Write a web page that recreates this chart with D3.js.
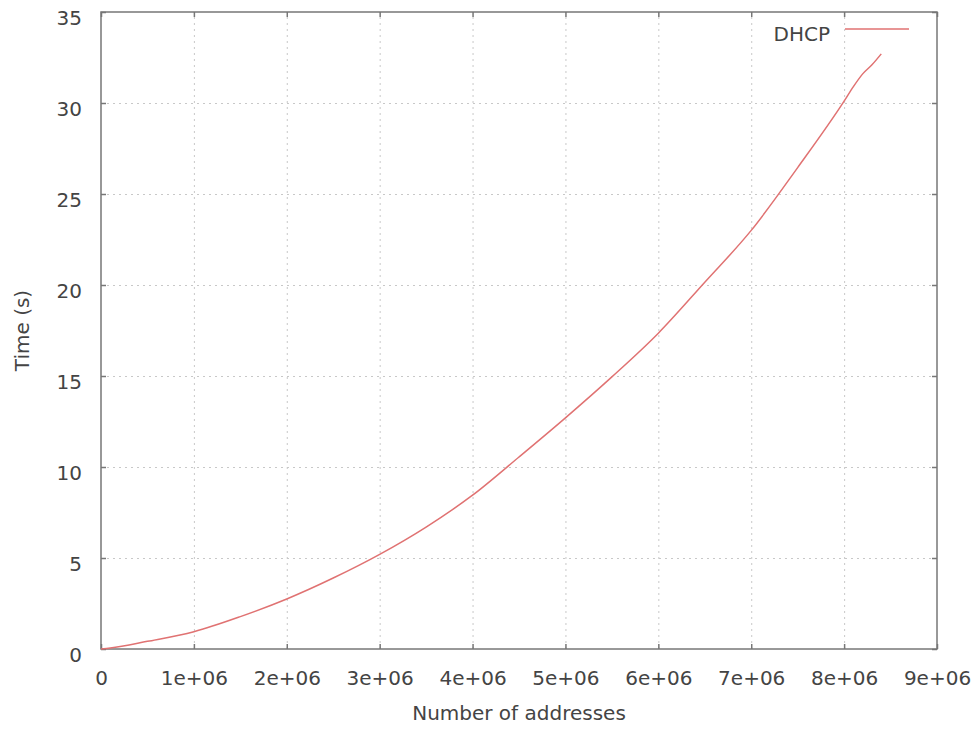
<!DOCTYPE html>
<html lang="en">
<head>
<meta charset="UTF-8">
<title>DHCP - Time vs number of addresses</title>
<script src="https://d3js.org/d3.v7.min.js"></script>
<style>
  body { margin: 0; background: #fff; }
  svg text { font-family: "DejaVu Sans", sans-serif; fill: #444; }
  .grid line { stroke: #c8c8c8; stroke-dasharray: 2,4; }
  .grid path { display: none; }
  .axis path { display: none; }
  .axis line { stroke: #777; stroke-width: 1.5; }
</style>
</head>
<body>
<script>
  // data
  const addresses = [0, 1e5, 5e5, 1e6, 1.5e6, 2e6, 2.5e6, 3e6, 3.5e6, 4e6, 4.5e6, 5e6, 5.5e6,
                     6e6, 6.5e6, 7e6, 7.5e6, 8e6, 8.1e6, 8.2e6, 8.3e6, 8.4e6];
  const seconds = [0, 0.05, 0.42, 0.95, 1.78, 2.75, 3.9, 5.2, 6.7, 8.45, 10.55, 12.7, 14.95,
                   17.35, 20.15, 23.0, 26.45, 30.1, 30.9, 31.6, 32.1, 32.7];
  const xTicks = [0, 1e6, 2e6, 3e6, 4e6, 5e6, 6e6, 7e6, 8e6, 9e6];
  const xTickLabels = ['0', '1e+06', '2e+06', '3e+06', '4e+06', '5e+06', '6e+06', '7e+06', '8e+06', '9e+06'];
  const yTicks = [0, 5, 10, 15, 20, 25, 30, 35];
  const seriesName = 'DHCP';

  const width = 975, height = 729;
  const margin = { top: 12, right: 38, bottom: 80, left: 101 };
  const w = width - margin.left - margin.right;
  const h = height - margin.top - margin.bottom;

  const svg = d3.select('body').append('svg').attr('width', width).attr('height', height);
  const g = svg.append('g').attr('transform', `translate(${margin.left},${margin.top})`);

  const x = d3.scaleLinear().domain([0, 9e6]).range([0, w]);
  const y = d3.scaleLinear().domain([0, 35]).range([h, 0]);

  // grid
  g.append('g').attr('class', 'grid')
    .attr('transform', `translate(0,${h})`)
    .call(d3.axisBottom(x).tickValues(xTicks.slice(1, -1)).tickSize(-h).tickFormat(''));
  g.append('g').attr('class', 'grid')
    .call(d3.axisLeft(y).tickValues(yTicks.slice(1, -1)).tickSize(-w).tickFormat(''));

  // axes with inward ticks
  const xAxis = g.append('g').attr('class', 'axis')
    .attr('transform', `translate(0,${h})`)
    .call(d3.axisBottom(x).tickValues(xTicks).tickSize(-5).tickPadding(22)
      .tickFormat((d, i) => xTickLabels[i]));
  xAxis.selectAll('text').attr('font-size', 20).attr('fill', '#444');

  const yAxis = g.append('g').attr('class', 'axis')
    .call(d3.axisLeft(y).tickValues(yTicks).tickSize(-5).tickPadding(19));
  yAxis.selectAll('text').attr('font-size', 20).attr('fill', '#444').attr('dy', '0.62em');

  g.append('g').attr('class', 'axis')
    .call(d3.axisTop(x).tickValues(xTicks).tickSize(-5).tickFormat(''));
  g.append('g').attr('class', 'axis')
    .attr('transform', `translate(${w},0)`)
    .call(d3.axisRight(y).tickValues(yTicks).tickSize(-5).tickFormat(''));

  // frame
  g.append('rect')
    .attr('width', w).attr('height', h)
    .attr('fill', 'none').attr('stroke', '#777').attr('stroke-width', 1.5);

  // series
  const pts = addresses.map((a, i) => [a, seconds[i]]);
  g.append('path')
    .datum(pts)
    .attr('fill', 'none')
    .attr('stroke', '#e07272')
    .attr('stroke-width', 1.5)
    .attr('d', d3.line().x(d => x(d[0])).y(d => y(d[1])).curve(d3.curveMonotoneX));

  // legend
  g.append('text')
    .attr('x', 729).attr('y', 29)
    .attr('text-anchor', 'end')
    .attr('font-size', 20)
    .text(seriesName);
  g.append('line')
    .attr('x1', 744).attr('x2', 808).attr('y1', 17).attr('y2', 17)
    .attr('stroke', '#e07272').attr('stroke-width', 1.5);

  // axis labels
  svg.append('text')
    .attr('x', margin.left + w / 2).attr('y', 720)
    .attr('text-anchor', 'middle')
    .attr('font-size', 20)
    .text('Number of addresses');

  svg.append('text')
    .attr('transform', `translate(29,${margin.top + h / 2}) rotate(-90)`)
    .attr('text-anchor', 'middle')
    .attr('font-size', 20)
    .text('Time (s)');
</script>
</body>
</html>
